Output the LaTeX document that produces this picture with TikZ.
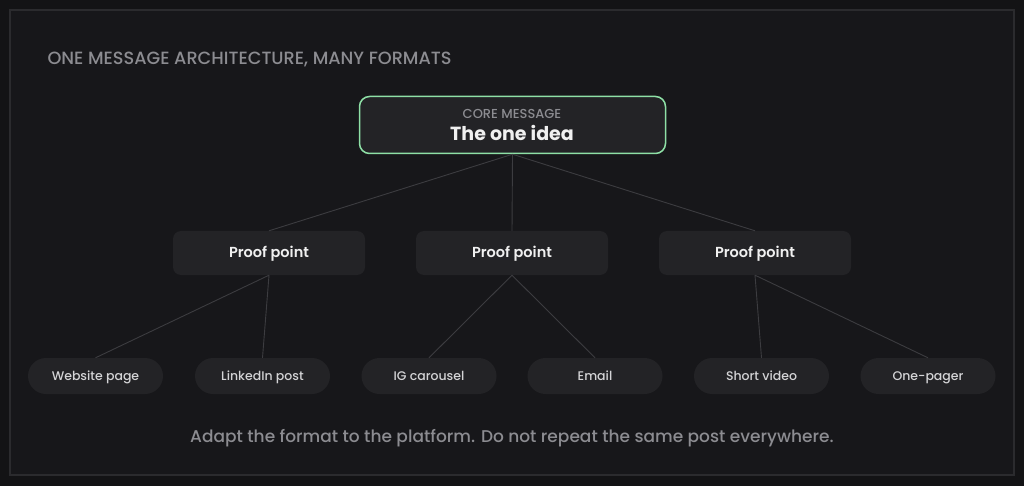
\documentclass[tikz,border=0pt]{standalone}
\usepackage{fontspec}
\setmainfont{Poppins}[UprightFont={Poppins Medium},BoldFont={Poppins SemiBold}]
\newfontfamily\ideafont{Poppins}[UprightFont={Poppins Bold}]
\definecolor{pagebg}{HTML}{131315}
\definecolor{panelbg}{HTML}{17171A}
\definecolor{panelframe}{HTML}{2B2B2E}
\definecolor{coregreen}{HTML}{8EE0A6}
\definecolor{boxfill}{HTML}{232326}
\definecolor{linkgray}{HTML}{3C3C40}
\definecolor{softgray}{HTML}{8C8C91}
\definecolor{brighttext}{HTML}{F0F0F0}
\definecolor{leaftext}{HTML}{D4D4D6}

\begin{document}
\begin{tikzpicture}[x=1pt,y=-1pt,
  core/.style={draw=coregreen,line width=1.5pt,fill=boxfill,rounded corners=10pt,
    minimum width=306pt,minimum height=57pt,inner sep=0pt},
  proof/.style={fill=boxfill,rounded corners=8pt,minimum width=192pt,minimum height=44pt,
    inner sep=0pt,text height=10pt,text depth=0pt,text=brighttext,font=\fontsize{14.5}{16}\selectfont\bfseries},
  leaf/.style={fill=boxfill,rounded corners=18pt,minimum width=135pt,minimum height=36pt,
    inner sep=0pt,text height=9pt,text depth=0pt,text=leaftext,font=\fontsize{12.5}{15}\selectfont},
  link/.style={draw=linkgray,line width=0.9pt}]

  % page and panel
  \fill[pagebg] (0,0) rectangle (1024,486);
  \draw[panelframe,fill=panelbg,line width=1.2pt] (10,10) rectangle (1014,475);

  \node[anchor=west,text=softgray,text height=12.5pt,text depth=0pt,font=\fontsize{17.7}{20}\selectfont] (title) at (44,58) {ONE MESSAGE ARCHITECTURE, MANY FORMATS};

  % core message
  \node[core] (core) at (512.5,125) {};
  \node[text=softgray,text height=9pt,text depth=0pt,font=\fontsize{13}{14}\selectfont] (corelabel) at (512,114.5) {CORE MESSAGE};
  \node[text=brighttext,text height=14pt,text depth=0pt,font=\fontsize{19}{22}\ideafont] (coreidea) at (512,133.5) {The one idea};

  % proof points
  \node[proof] (pp1) at (269,253) {Proof point};
  \node[proof] (pp2) at (512,253) {Proof point};
  \node[proof] (pp3) at (755,253) {Proof point};

  % formats
  \node[leaf] (web) at (95.5,376) {Website page};
  \node[leaf] (linkedin) at (262.5,376) {LinkedIn post};
  \node[leaf] (igc) at (429,376) {IG carousel};
  \node[leaf] (email) at (595,376) {Email};
  \node[leaf] (video) at (761.5,376) {Short video};
  \node[leaf] (onepager) at (928,376) {One-pager};

  \draw[link] (core.south) -- (pp1.north);
  \draw[link] (core.south) -- (pp2.north);
  \draw[link] (core.south) -- (pp3.north);
  \draw[link] (pp1.south) -- (web.north);
  \draw[link] (pp1.south) -- (linkedin.north);
  \draw[link] (pp2.south) -- (igc.north);
  \draw[link] (pp2.south) -- (email.north);
  \draw[link] (pp3.south) -- (video.north);
  \draw[link] (pp3.south) -- (onepager.north);

  \node[text=softgray,text height=12pt,text depth=0pt,font=\fontsize{17}{18}\selectfont] (note) at (512,436) {Adapt the format to the platform. Do not repeat the same post everywhere.};
\end{tikzpicture}
\end{document}
